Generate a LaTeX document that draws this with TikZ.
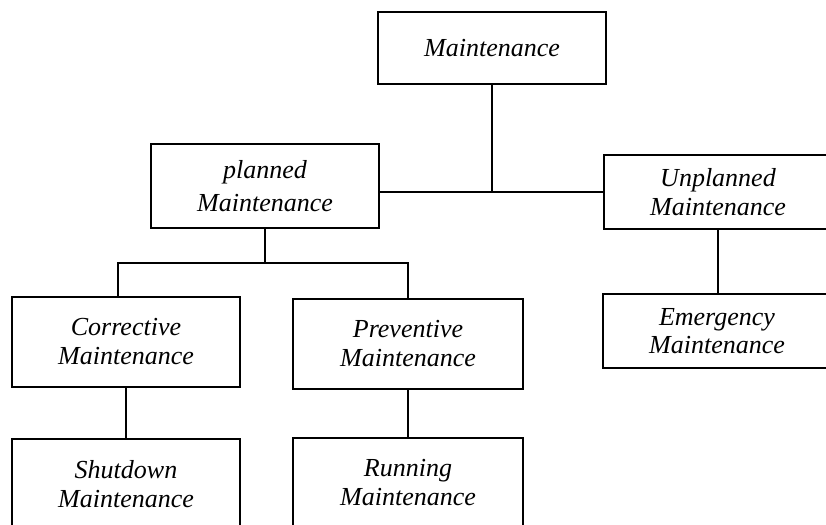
\documentclass[tikz,border=0pt]{standalone}
\usepackage{fontspec}
\setmainfont{Liberation Serif}
\usepackage{tikz}

\tikzset{
  mbox/.style={draw, line width=2.8pt, rectangle, inner sep=0pt,
    minimum width=228pt, align=center,
    font=\itshape\fontsize{26}{29}\selectfont},
  link/.style={line width=2.4pt}
}

\begin{document}
\begin{tikzpicture}[x=1pt, y=-1pt]
			% 画布大小与白色背景
			\useasboundingbox (0,0) rectangle (826,524);
			\fill[white] (0,0) rectangle (826,524);
			\clip (0,0) rectangle (826,524);
			
			% 顶层：Maintenance
			\node[mbox, minimum height=72pt] (main) at (492,48) {Maintenance};
			
			% 第二层：计划与非计划
			\node[mbox, minimum height=84pt, font=\itshape\fontsize{26}{33}\selectfont] (planned) at (265,186) {planned\\Maintenance};
			\node[mbox, minimum height=74pt] (unplanned) at (718,192) {Unplanned\\Maintenance};
			
			% 第三层
			\node[mbox, minimum height=90pt] (corrective) at (126,342) {Corrective\\Maintenance};
			\node[mbox, minimum height=90pt, minimum width=230pt] (preventive) at (408,344) {Preventive\\Maintenance};
			\node[mbox, minimum height=74pt, font=\itshape\fontsize{26}{28}\selectfont] (emergency) at (717,331) {Emergency\\Maintenance};
			
			% 第四层（下边缘被裁掉）
			\node[mbox, minimum height=90pt] (shutdown) at (126,484) {Shutdown\\Maintenance};
			\node[mbox, minimum height=90pt, minimum width=230pt] (running) at (408,483) {Running\\Maintenance};
			
			% 连接线：顶层到第二层
			\coordinate (mainbus) at (492,192);
			\draw[link] (main.south) -- (mainbus);
			\draw[link] (planned.east |- mainbus) -- (unplanned.west |- mainbus);
			
			% 连接线：planned 到两个子节点
			\coordinate (plannedbus) at (265,263);
			\draw[link] (planned.south) -- (plannedbus);
			\draw[link] ([xshift=-8]corrective.north) |- (plannedbus) -| (preventive.north);
			
			% 连接线：竖直的单线
			\draw[link] (corrective.south) -- (shutdown.north);
			\draw[link] (preventive.south) -- (running.north);
			\draw[link] (unplanned.south) -- (unplanned.south |- emergency.north);
		\end{tikzpicture}
\end{document}
